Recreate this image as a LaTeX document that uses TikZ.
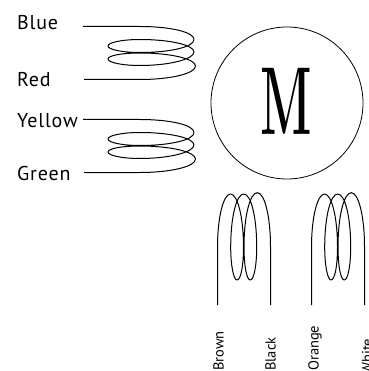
\documentclass[tikz,border=0pt]{standalone}
\usepackage{fontspec}
\setmainfont{Latin Modern Roman}
\newfontfamily\labelfont[LetterSpace=4]{PT Sans}
\newfontfamily\vlabelfont{PT Sans}
\tikzset{
  wire/.style={draw=black,line width=1pt,line join=round},
  lab/.style={font=\labelfont\fontsize{20}{20}\selectfont,anchor=base west,inner sep=0pt,text=black},
  vlab/.style={font=\vlabelfont\fontsize{14.5}{14.5}\selectfont,anchor=base west,inner sep=0pt,rotate=90,text=black},
}
\begin{document}
\begin{tikzpicture}[x=1pt,y=-1pt]
\clip (0,0) rectangle (368,371);
\useasboundingbox (0,0) rectangle (368,371);
% horizontal coils
\foreach \dy in {0,93}{
\begin{scope}[yshift=-\dy pt]
\draw[wire] (83,26.5) -- (140,26.5)
  .. controls (170,26.5) and (194,32) .. (194,39.5)
  .. controls (194,47) and (170,52.5) .. (140,52.5)
  .. controls (122,52.5) and (108,49.5) .. (108,46)
  .. controls (108,42.5) and (122,39.5) .. (140,39.5)
  .. controls (170,39.5) and (194,45) .. (194,52)
  .. controls (194,59) and (170,65.5) .. (140,65.5)
  .. controls (122,65.5) and (108,62.5) .. (108,59)
  .. controls (108,55.5) and (122,53) .. (140,53)
  .. controls (171,53) and (195.5,59) .. (195.5,66)
  .. controls (195.5,73.5) and (171,79.5) .. (140,79.5)
  -- (84,79.5);
\end{scope}}
% vertical coils
\foreach \dx in {0,94}{
\begin{scope}[xshift=\dx pt]
\draw[wire] (217.5,305) -- (217.5,247)
  .. controls (217.5,217) and (223.5,194) .. (230.5,194)
  .. controls (237.5,194) and (243.5,217) .. (243.5,247)
  .. controls (243.5,265) and (241,280) .. (237,280)
  .. controls (233.5,280) and (230.7,265) .. (230.7,247)
  .. controls (230.7,217) and (236.5,194) .. (243.7,194)
  .. controls (251,194) and (256.7,217) .. (256.7,247)
  .. controls (256.7,265) and (254,280) .. (250.3,280)
  .. controls (246.5,280) and (244,265) .. (244,247)
  .. controls (244,216) and (250,192.7) .. (257.3,192.7)
  .. controls (264.5,192.7) and (270.5,216) .. (270.5,247)
  -- (270.5,305);
\end{scope}}
% motor
\node[circle,draw=black,line width=0.8pt,minimum size=152pt,inner sep=0pt] (motor) at (287,103) {};
\node[inner sep=0pt,anchor=base] (m) at (286,135) {\scalebox{0.5}[1]{\fontsize{96.5}{96.5}\selectfont\bfseries M}};
% labels
\node[lab] (blue) at (17,30) {Blue};
\node[lab] (red) at (17,86.5) {Red};
\node[lab] (yellow) at (17,128) {Yellow};
\node[lab] (green) at (17,180) {Green};
\node[vlab] (brown) at (223.5,371) {Brown};
\node[vlab] (black) at (275.5,371) {Black};
\node[vlab] (orange) at (318.5,371) {Orange};
\node[vlab] (white) at (372,375) {White};
\end{tikzpicture}
\end{document}
